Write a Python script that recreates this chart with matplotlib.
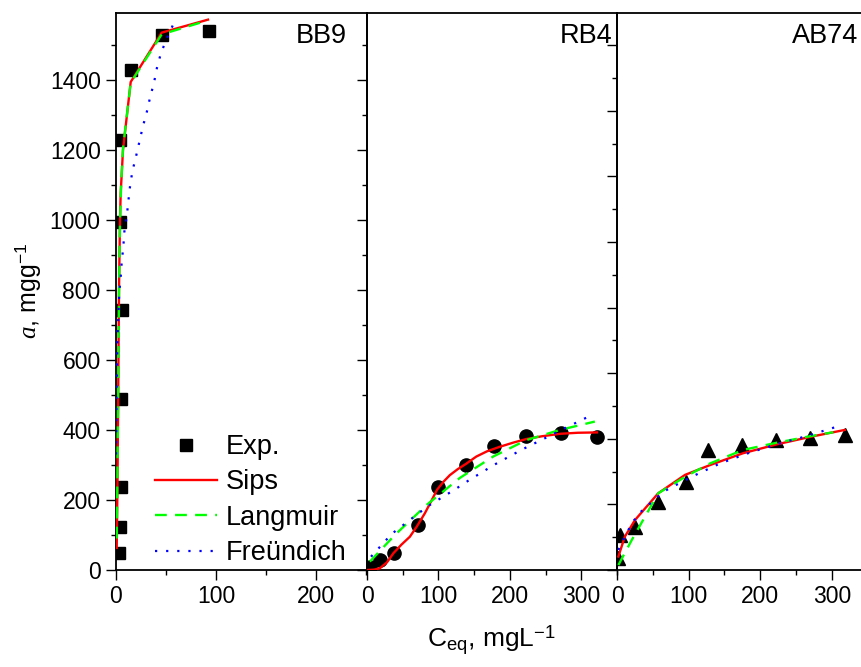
import matplotlib
matplotlib.use('Agg')
from matplotlib import pyplot as plt
from matplotlib.ticker import MultipleLocator

plt.rcParams['font.family'] = ['Liberation Sans', 'DejaVu Sans']
plt.rcParams['mathtext.fontset'] = 'custom'
plt.rcParams['mathtext.rm'] = 'Liberation Sans'
plt.rcParams['mathtext.it'] = 'Liberation Serif:italic'

# BB9: эксперимент и модели
bb9_exp_x = [3.3, 4, 5, 5, 5.7, 4.3, 4.3, 14.7, 45.7, 93]
bb9_exp_y = [48, 123, 238, 489, 743, 995, 1227, 1429, 1529, 1540]
bb9_sips_x = [0.7, 1.5, 2.2, 3, 4, 4.7, 7, 14.7, 45.7, 92]
bb9_sips_y = [63, 250, 500, 800, 1000, 1077, 1200, 1394, 1535, 1572]
bb9_lang_x = [0.7, 1.5, 2.2, 3, 4, 5, 7, 14.7, 45.7, 92]
bb9_lang_y = [90, 280, 520, 790, 990, 1090, 1205, 1392, 1530, 1570]
bb9_freu_x = [0.07, 0.5, 1.5, 3.3, 4.7, 5.7, 7.3, 8.3, 10.7, 12.3, 14, 16.3,
              20, 23.3, 26.7, 30.7, 34, 38, 41, 45, 50.7, 57]
bb9_freu_y = [330, 510, 660, 794, 836, 879, 922, 965, 1009, 1052, 1095, 1138,
              1181, 1222, 1265, 1307, 1349, 1392, 1435, 1477, 1517, 1557]

# RB4
rb4_exp_x = [4.2, 18, 38, 71.8, 99.7, 138.5, 177.6, 222, 271, 322.6]
rb4_exp_y = [9, 29, 49, 129, 238, 300, 354, 384, 390, 381]
rb4_sips_x = [0.5, 10, 18, 28, 37, 48, 60, 70, 81, 90, 98, 107, 116, 127,
              138.5, 153, 168, 186, 205, 223, 245, 270, 295, 322]
rb4_sips_y = [0, 1, 5, 22, 48, 72, 95, 125, 162, 197, 229, 252, 271, 288,
              303, 324, 339, 352, 364, 374, 382, 389, 392, 393]
rb4_lang_x = [4, 39, 83.5, 130, 176.6, 223, 270, 319]
rb4_lang_y = [24, 100, 186, 263, 324, 371, 400, 424]
rb4_freu_x = [5.6, 34.5, 85.7, 123, 141.7, 177.6, 216, 253.6, 293, 312]
rb4_freu_y = [38, 103, 183, 230, 255, 300, 343, 381, 421, 440]

# AB74
ab74_exp_x = [1.9, 4.2, 25, 57.6, 96, 127, 175, 222, 270, 318]
ab74_exp_y = [36, 107, 132, 208, 269, 366, 381, 396, 401, 412]
ab74_sips_x = [1.9, 11, 25, 57.6, 95, 130, 176, 223, 270, 318]
ab74_sips_y = [41, 102, 152, 234, 290, 320, 356, 383, 406, 427]
ab74_lang_x = [1.9, 20.5, 57.6, 95, 130, 176, 223, 270, 302]
ab74_lang_y = [15, 91, 234, 284, 325, 366, 388, 408, 420]
ab74_freu_x = [1.9, 20.5, 32, 65, 104, 144, 185.5, 227, 264.6, 307]
ab74_freu_y = [61, 142, 175, 239, 284, 325, 358, 386, 408, 437]

W, H = 861, 667
fig = plt.figure(figsize=(W / 100, H / 100), dpi=100)


def box(x0, x1, y0=13, y1=570):
    return [x0 / W, 1 - y1 / H, (x1 - x0) / W, (y1 - y0) / H]


ax1 = fig.add_axes(box(116, 367))
ax2 = fig.add_axes(box(367, 617))
ax3 = fig.add_axes(box(617, 867))

panels = [
    (ax1, 's', 8, bb9_exp_x, bb9_exp_y, bb9_sips_x, bb9_sips_y,
     bb9_lang_x, bb9_lang_y, bb9_freu_x, bb9_freu_y, (0, 251), (0, 1591)),
    (ax2, 'o', 9.5, rb4_exp_x, rb4_exp_y, rb4_sips_x, rb4_sips_y,
     rb4_lang_x, rb4_lang_y, rb4_freu_x, rb4_freu_y, (0, 350), (0, 1591)),
    (ax3, '^', 10.5, ab74_exp_x, ab74_exp_y, ab74_sips_x, ab74_sips_y,
     ab74_lang_x, ab74_lang_y, ab74_freu_x, ab74_freu_y, (0, 349), (0, 1698)),
]

for (ax, mk, ms, ex, ey, sx, sy, lx, ly, fx, fy, xl, yl) in panels:
    ax.plot(ex, ey, ls='none', marker=mk, ms=ms, color='black', zorder=2,
            label='Exp.')
    ax.plot(sx, sy, color='#ff0000', lw=1.7, zorder=3, label='Sips')
    ax.plot(lx, ly, color='#00ff00', lw=1.7, ls=(0, (5, 3.5)), zorder=4,
            label='Langmuir')
    ax.plot(fx, fy, color='#0000ff', lw=1.6, ls=(0, (1, 4)), zorder=5,
            label='Freündich')
    ax.set_xlim(*xl)
    ax.set_ylim(*yl)
    ax.xaxis.set_major_locator(MultipleLocator(100))
    ax.xaxis.set_minor_locator(MultipleLocator(50))
    ax.yaxis.set_major_locator(MultipleLocator(200))
    ax.yaxis.set_minor_locator(MultipleLocator(100))
    ax.tick_params(which='both', direction='out', width=1, labelsize=16.5,
                   pad=4, top=False, right=False)
    ax.tick_params(which='major', length=7)
    ax.tick_params(which='minor', length=3.5)
    for sp in ax.spines.values():
        sp.set_linewidth(1.3)
    ax.patch.set_alpha(0)

ax2.tick_params(axis='y', labelleft=False)
ax3.tick_params(axis='y', labelleft=False)
ax3.spines['right'].set_visible(False)

# подписи красителей
fig.text(347 / W, 1 - 43 / H, 'BB9', ha='right', va='baseline', fontsize=19.5)
fig.text(612 / W, 1 - 43 / H, 'RB4', ha='right', va='baseline', fontsize=19.5)
fig.text(858 / W, 1 - 43 / H, 'AB74', ha='right', va='baseline', fontsize=19.5)

fig.text(28 / W, 1 - 291 / H, r'$\mathit{a}$, mgg$^{\mathrm{-1}}$',
         rotation=90, ha='center', va='center', fontsize=18)
fig.text(491 / W, 1 - 640 / H, r'C$_{\mathrm{eq}}$, mgL$^{\mathrm{-1}}$',
         ha='center', va='center', fontsize=19)

handles, labels = ax1.get_legend_handles_labels()
fig.legend(handles, labels, loc='upper left',
           bbox_to_anchor=(155 / W, 1 - 434 / H), frameon=False,
           fontsize=19.5, handlelength=2.3, handletextpad=0.32,
           labelspacing=0.35, borderpad=0, borderaxespad=0, numpoints=1)

fig.savefig('out.png', dpi=100)
